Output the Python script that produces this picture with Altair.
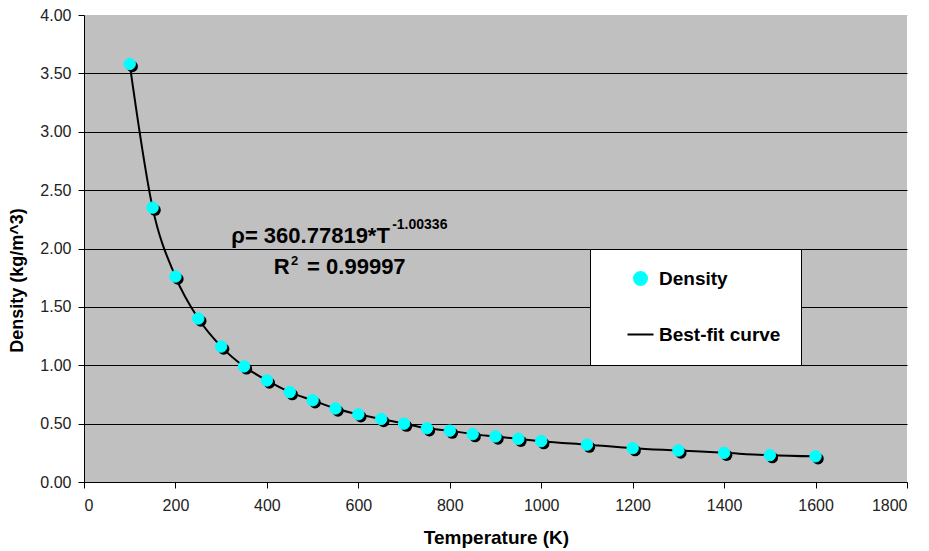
import altair as alt
import pandas as pd

# --- data ---
temperature = [100, 150, 200, 250, 300, 350, 400, 450, 500, 550, 600, 650, 700,
               750, 800, 850, 900, 950, 1000, 1100, 1200, 1300, 1400, 1500, 1600]
density = [3.58, 2.35, 1.76, 1.40, 1.16, 0.99, 0.87, 0.77, 0.70, 0.63, 0.58, 0.54,
           0.50, 0.46, 0.44, 0.41, 0.39, 0.37, 0.35, 0.32, 0.29, 0.27, 0.25, 0.23, 0.22]
series_names = ["Density", "Best-fit curve"]
series_colors = ["#00FFFF", "#000000"]
x_ticks = [0, 200, 400, 600, 800, 1000, 1200, 1400, 1600, 1800]
y_ticks = [0, 0.5, 1.0, 1.5, 2.0, 2.5, 3.0, 3.5, 4.0]

# annotation anchors (data units)
eq_main = {"text": "ρ= 360.77819*T", "T": 669, "rho": 2.05}
eq_sup = {"text": "-1.00336", "T": 674, "rho": 2.165}
r_main = {"text": "R", "T": 450, "rho": 1.782}
r_sup = {"text": "2", "T": 453, "rho": 1.86}
r_val = {"text": "= 0.99997", "T": 488, "rho": 1.782}

pts = pd.DataFrame({"T": temperature, "rho": density, "series": series_names[0]})
crv = pd.DataFrame({"T": temperature, "rho": density, "series": series_names[1]})

FONT = "Liberation Sans"

x_enc = alt.X("T:Q", scale=alt.Scale(domain=[0, 1800], nice=False),
              axis=alt.Axis(values=x_ticks, format="d", title="Temperature (K)", grid=False,
                            labelFontSize=16, labelColor="#222222", labelFont=FONT,
                            labelPadding=9, tickSize=6, tickColor="black",
                            domainColor="black", titleFontSize=19, titleFont=FONT,
                            titleFontWeight="bold", titleColor="black",
                            titleBaseline="alphabetic", titleY=61, titleX=412))
y_enc = alt.Y("rho:Q", scale=alt.Scale(domain=[0, 4], nice=False),
              axis=alt.Axis(values=y_ticks, format=".2f", title="Density (kg/m^3)",
                            grid=True,
                            gridColor={"condition": {"test": "datum.value >= 4", "value": "#C0C0C0"},
                                       "value": "black"},
                            gridWidth=1, gridOpacity=1,
                            labelFontSize=16, labelColor="#222222", labelFont=FONT,
                            labelPadding=7, tickSize=6, tickColor="black",
                            domainColor="black", titleFontSize=18, titleFont=FONT,
                            titleFontWeight="bold", titleColor="black",
                            titleAngle=270, titleBaseline="alphabetic",
                            titleX=-62, titleY=265))

color_scale = alt.Scale(domain=series_names, range=series_colors)
shape_scale = alt.Scale(domain=series_names, range=["circle", "M-2,0H2"])
legend = alt.Legend(title=None, orient="none", legendX=506, legendY=234,
                    fillColor="white", strokeColor="black", padding=20,
                    rowPadding=36, symbolSize=169, symbolStrokeWidth=2,
                    symbolOffset=21, labelOffset=9, labelFontSize=19,
                    labelFont=FONT, labelFontWeight="bold", labelColor="black")

line = alt.Chart(crv).mark_line(strokeWidth=2, interpolate="monotone").encode(
    x=x_enc, y=y_enc,
    color=alt.Color("series:N", scale=color_scale, legend=legend),
)

shadow = alt.Chart(pts).mark_point(filled=True, color="black", size=130, opacity=1,
                                   xOffset=2.5, yOffset=2.5).encode(x="T:Q", y="rho:Q")

points = alt.Chart(pts).mark_point(filled=False, fill="#00FFFF", size=130, opacity=1,
                                   strokeWidth=1).encode(
    x="T:Q", y="rho:Q",
    color=alt.Color("series:N", scale=color_scale, legend=legend),
    shape=alt.Shape("series:N", scale=shape_scale, legend=legend),
)


def label(d, size, align):
    return alt.Chart(pd.DataFrame([d])).mark_text(
        font=FONT, fontSize=size, fontWeight="bold", color="black",
        align=align, baseline="alphabetic").encode(x="T:Q", y="rho:Q", text="text:N")


chart = alt.layer(
    line, shadow, points,
    label(eq_main, 22, "right"), label(eq_sup, 14, "left"),
    label(r_main, 22, "right"), label(r_sup, 13, "left"), label(r_val, 22, "left"),
).properties(
    width=823, height=467,
    autosize=alt.AutoSizeParams(type="none"),
    padding={"left": 84, "top": 15, "right": 22, "bottom": 69},
    background="white",
).configure_view(fill="#C0C0C0", stroke=None)

chart.save("out.html", embed_options={"renderer": "svg", "actions": False})
